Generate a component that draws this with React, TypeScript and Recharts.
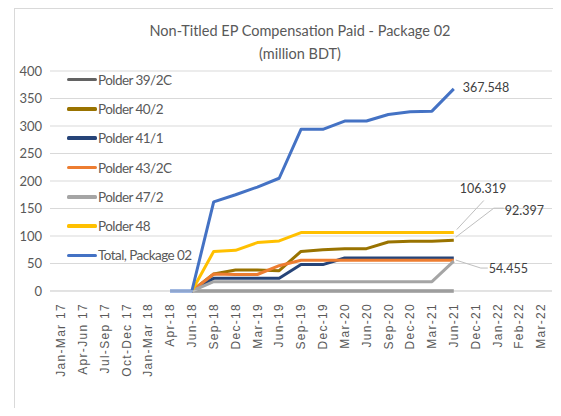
import React from "react";
import { LineChart, Line, XAxis, YAxis, CartesianGrid, Legend, LabelList } from "recharts";

const categories = [
  "Jan-Mar 17", "Apr-Jun 17", "Jul-Sep 17", "Oct-Dec 17", "Jan-Mar 18",
  "Apr-18", "Jun-18", "Sep-18", "Dec-18", "Mar-19", "Jun-19", "Sep-19",
  "Dec-19", "Mar-20", "Jun-20", "Sep-20", "Dec-20", "Mar-21", "Jun-21",
  "Dec-21", "Jan-22", "Feb-22", "Mar-22",
];

const N = null;
const polder39_2C = [N, N, N, N, N, N, 0, 0, 0, 0, 0, 0, 0, 0, 0, 0, 0, 0, 0, N, N, N, N];
const polder40_2 = [N, N, N, N, N, N, 0, 31, 38, 38, 37, 72, 75, 77, 77, 89, 90.5, 90.5, 92.397, N, N, N, N];
const polder41_1 = [N, N, N, N, N, N, 0, 23, 23, 23, 23, 48, 48, 60, 60, 60, 60, 60, 60, N, N, N, N];
const polder43_2C = [N, N, N, N, N, N, 0, 31, 30, 30, 46, 56, 56, 56, 56, 56, 56, 56, 56, N, N, N, N];
const polder47_2 = [N, N, N, N, N, N, 0, 17, 17, 17, 17, 17, 17, 17, 17, 17, 17, 17, 54.455, N, N, N, N];
const polder48 = [N, N, N, N, N, N, 0, 72, 74, 88, 91, 106.319, 106.319, 106.319, 106.319, 106.319, 106.319, 106.319, 106.319, N, N, N, N];
const totalPackage02 = [N, N, N, N, N, 0, 0, 162, 175, 189, 205, 294, 294, 309, 309, 321, 326, 327, 367.548, N, N, N, N];

const yTicks = [0, 50, 100, 150, 200, 250, 300, 350, 400];

const seriesNames = [
  "Polder 39/2C", "Polder 40/2", "Polder 41/1", "Polder 43/2C",
  "Polder 47/2", "Polder 48", "Total, Package 02",
];
const seriesValues = [polder39_2C, polder40_2, polder41_1, polder43_2C, polder47_2, polder48, totalPackage02];
const seriesColors = ["#636363", "#997300", "#264478", "#ED7D31", "#A5A5A5", "#FFC000", "#4472C4"];

const data = categories.map((cat, i) => {
  const row: any = { cat };
  seriesNames.forEach((name, s) => {
    row["s" + s] = seriesValues[s][i];
  });
  return row;
});

const LAST = 18;
const FONT = "Lato, 'Open Sans', sans-serif";
const TEXT = "#595959";

// label placement: text offset (dx, dy) and leader polyline points relative to the end point
const labelCfg: Record<number, { dx: number; dy: number; leader?: number[][] }> = {
  6: { dx: 9, dy: -1 },
  5: { dx: 6, dy: -44, leader: [[3, -3], [30, -32]] },
  1: { dx: 51, dy: -30, leader: [[2, -3], [40, -32], [50, -32]] },
  4: { dx: 35, dy: 8, leader: [[2, -1], [27, 7], [34, 7]] },
};

const makeLabel = (s: number) => (props: any) => {
  const { x, y, index, value } = props;
  const cfg = labelCfg[s];
  if (!cfg || index !== LAST || value == null) return null;
  return (
    <g>
      {cfg.leader && (
        <polyline
          points={cfg.leader.map((p) => `${x + p[0]},${y + p[1]}`).join(" ")}
          fill="none"
          stroke="#BFBFBF"
          strokeWidth={1}
        />
      )}
      <text
        x={x + cfg.dx}
        y={y + cfg.dy}
        dy="0.35em"
        textAnchor="start"
        fontFamily={FONT}
        fontSize={12.5}
        fill="#404040"
      >
        {Number(value).toFixed(3)}
      </text>
    </g>
  );
};

const XTick = (props: any) => {
  const { x, y, payload } = props;
  return (
    <g transform={`translate(${x},${y + 12})`}>
      <text
        transform="rotate(-90)"
        textAnchor="end"
        dy="0.35em"
        fontFamily="'Liberation Sans', Arial, sans-serif"
        fontSize={12}
        letterSpacing={1.3}
        fill={TEXT}
      >
        {payload.value}
      </text>
    </g>
  );
};

const renderLegend = () => (
  <div style={{ fontFamily: FONT, fontSize: 13.5, color: TEXT }}>
    {seriesNames.map((name, i) => (
      <div key={name} style={{ height: 29.3, display: "flex", alignItems: "center" }}>
        <div style={{ width: 30, height: 3.5, background: seriesColors[i], borderRadius: 1.5, marginRight: 1 }} />
        <span style={{ letterSpacing: -0.55 }}>{name}</span>
      </div>
    ))}
  </div>
);

export default function App() {
  return (
    <div style={{ position: "relative", width: 553, height: 400, overflow: "hidden", background: "#fff" }}>
      <div
        style={{
          position: "absolute",
          left: 6,
          top: 0,
          width: 700,
          height: 700,
          border: "1px solid #D9D9D9",
          boxSizing: "border-box",
        }}
      />
      <div
        style={{
          position: "absolute",
          left: 0,
          top: 11,
          width: 584,
          textAlign: "center",
          fontFamily: FONT,
          fontSize: 14.5,
          color: TEXT,
          lineHeight: "23px",
        }}
      >
        <div>Non-Titled EP Compensation Paid - Package 02</div>
        <div>(million BDT)</div>
      </div>
      <LineChart
        width={553}
        height={400}
        data={data}
        margin={{ top: 63, right: 9, left: 0, bottom: 0 }}
        style={{ position: "absolute", left: 0, top: 0 }}
      >
        <CartesianGrid horizontal vertical={false} stroke="#D9D9D9" />
        <XAxis
          dataKey="cat"
          interval={0}
          height={117}
          tickLine={false}
          tickSize={0}
          tickMargin={0}
          axisLine={{ stroke: "#D9D9D9" }}
          padding={{ left: 10.9, right: 10.9 }}
          tick={<XTick />}
        />
        <YAxis
          width={42}
          domain={[0, 400]}
          ticks={yTicks}
          axisLine={false}
          tickLine={false}
          tick={{ fontFamily: FONT, fontSize: 13, fill: TEXT }}
        />
        <Legend
          layout="vertical"
          align="center"
          verticalAlign="middle"
          wrapperStyle={{ left: 59, top: 57, width: 170 }}
          content={renderLegend}
        />
        {seriesNames.map((name, s) => (
          <Line
            key={name}
            dataKey={"s" + s}
            name={name}
            stroke={seriesColors[s]}
            strokeWidth={3}
            dot={false}
            activeDot={false}
            isAnimationActive={false}
            strokeLinejoin="round"
          >
            {labelCfg[s] && <LabelList dataKey={"s" + s} content={makeLabel(s)} />}
          </Line>
        ))}
      </LineChart>
    </div>
  );
}
